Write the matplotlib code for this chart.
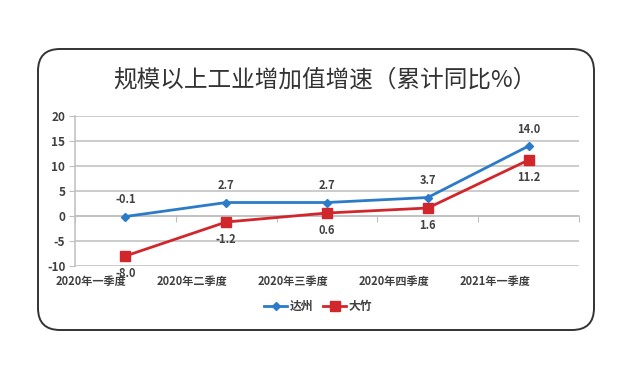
import matplotlib
matplotlib.use('Agg')
import matplotlib.pyplot as plt
from matplotlib.patches import FancyBboxPatch
import numpy as np

plt.rcParams['font.family'] = ['Noto Sans CJK SC', 'DejaVu Sans']

categories = ['2020年一季度', '2020年二季度', '2020年三季度', '2020年四季度', '2021年一季度']
dazhou = [-0.1, 2.7, 2.7, 3.7, 14.0]
dazhu = [-8.0, -1.2, 0.6, 1.6, 11.2]
yticks = [-10, -5, 0, 5, 10, 15, 20]

blue = '#2b7bc8'
red = '#d1262b'
text_c = '#404040'
grid_c = '#bfbfbf'

fig = plt.figure(figsize=(6.4, 3.65), dpi=100)

# rounded frame (inches), kept behind the axes
frame = FancyBboxPatch((0.38, 0.35), 5.56, 2.81,
                       boxstyle='round,pad=0,rounding_size=0.22',
                       transform=fig.dpi_scale_trans,
                       facecolor='white', edgecolor='#333333', linewidth=1.4,
                       zorder=-5)
fig.add_artist(frame)

fig.text(0.508, 0.782, '规模以上工业增加值增速（累计同比%）',
         ha='center', va='center', fontsize=17, color='#333333')

ax = fig.add_axes([0.1172, 0.2712, 0.7875, 0.411])
ax.set_facecolor('none')
x = np.arange(len(categories))

ax.set_ylim(-10, 20)
ax.set_xlim(-0.5, len(categories) - 0.5)
ax.set_yticks(yticks)
ax.set_yticklabels([str(v) for v in yticks])
ax.yaxis.grid(True, color=grid_c, linewidth=1.1)
ax.set_axisbelow(True)

for s in ['top', 'right']:
    ax.spines[s].set_visible(False)
ax.spines['left'].set_color(grid_c)
ax.spines['left'].set_linewidth(1.1)
ax.spines['bottom'].set_position(('data', 0))
ax.spines['bottom'].set_color(grid_c)
ax.spines['bottom'].set_linewidth(1.1)

ax.tick_params(axis='y', length=4, color=grid_c, labelsize=8.5,
               labelcolor=text_c, pad=3)
for lbl in ax.get_yticklabels():
    lbl.set_fontweight('bold')
ax.set_xticks(np.arange(len(categories) + 1) - 0.5)
ax.tick_params(axis='x', length=4, color=grid_c, labelbottom=False)

for i, lab in enumerate(categories):
    ax.annotate(lab, (i, -10), xytext=(1, -6.5), textcoords='offset points',
                ha='right', va='top', fontsize=8, color=text_c,
                fontweight='bold')

ax.plot(x, dazhou, color=blue, linewidth=2, marker='D', markersize=4.5,
        label='达州', zorder=4)
ax.plot(x, dazhu, color=red, linewidth=2, marker='s', markersize=7,
        label='大竹', zorder=3)

for i, v in enumerate(dazhou):
    ax.annotate(f'{v:.1f}', (i, v), xytext=(0, 12), textcoords='offset points',
                ha='center', va='center', fontsize=8, color=text_c,
                fontweight='bold')
for i, v in enumerate(dazhu):
    ax.annotate(f'{v:.1f}', (i, v), xytext=(0, -12.5), textcoords='offset points',
                ha='center', va='center', fontsize=8, color=text_c,
                fontweight='bold')

leg = fig.legend(loc='center', bbox_to_anchor=(0.497, 0.16), ncol=2,
                 frameon=False, handlelength=2.0,
                 handletextpad=0.2, columnspacing=0.8,
                 prop={'weight': 'bold', 'size': 8.5})
for t in leg.get_texts():
    t.set_color(text_c)

fig.savefig('out.png', dpi=100)
